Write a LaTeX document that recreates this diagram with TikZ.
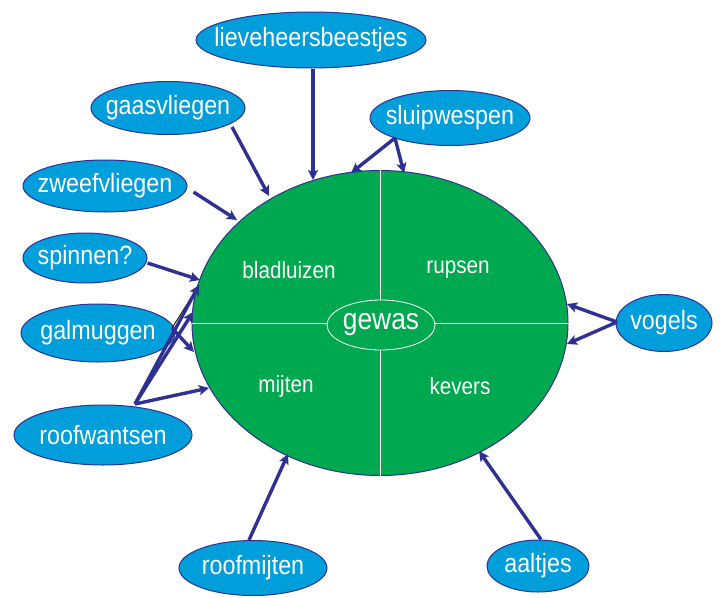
\documentclass[tikz,border=0pt]{standalone}
\usepackage{fontspec}
\setmainfont{Liberation Sans}[FakeStretch=0.88]
\usetikzlibrary{arrows.meta,shapes.geometric}
\definecolor{crop}{HTML}{00A84F}
\definecolor{pest}{HTML}{009EDB}
\definecolor{navy}{HTML}{2E3192}
\newcommand\lbl[1]{\makebox[0pt]{#1}}
\tikzset{
  enemy/.style={ellipse,draw=navy,line width=1pt,fill=pest,text=white,inner sep=0pt,font=\fontsize{26.5}{26.5}\selectfont},
  link/.style={draw=navy,line width=3.4pt,-{Stealth[length=10pt,width=10pt,inset=2pt]}},
  quad/.style={text=white,font=\fontsize{23.5}{23.5}\selectfont}
}
\begin{document}
\begin{tikzpicture}[x=1pt,y=-1pt]
\useasboundingbox (0,0) rectangle (722,597);
% crop
\node[ellipse,draw=navy,line width=1pt,fill=crop,minimum width=376pt,minimum height=305pt,inner sep=0pt] (crop) at (380,323) {};
\draw[white,line width=0.7pt] (crop.north) -- (crop.south);
\draw[white,line width=0.7pt] (crop.west) -- (crop.east);
\node[ellipse,draw=white,line width=0.8pt,fill=crop,minimum width=108pt,minimum height=50pt,inner sep=0pt,text=white,font=\fontsize{30}{30}\selectfont] (gewas) at (381,325) {\lbl{gewas}};
\node[quad] (blad) at (289,270) {bladluizen};
\node[quad] (rups) at (458,270) {rupsen};
\node[quad] (mijt) at (286,386) {mijten};
\node[quad] (kev) at (460,386) {kevers};
% enemies
\node[enemy,minimum width=230pt,minimum height=56pt] (lhb) at (311,40) {\lbl{lieveheersbeestjes}};
\node[enemy,minimum width=154pt,minimum height=53pt] (gaas) at (168,108) {\lbl{gaasvliegen}};
\node[enemy,minimum width=160pt,minimum height=55pt] (sluip) at (450,118) {\lbl{sluipwespen}};
\node[enemy,minimum width=164pt,minimum height=52pt] (zweef) at (105,186) {\lbl{zweefvliegen}};
\node[enemy,minimum width=124pt,minimum height=50pt] (spin) at (85,258) {\lbl{spinnen?}};
\node[enemy,minimum width=154pt,minimum height=58pt] (galm) at (98,333) {\lbl{galmuggen}};
\node[enemy,minimum width=178pt,minimum height=60pt] (roofw) at (103,435) {\lbl{roofwantsen}};
\node[enemy,minimum width=96pt,minimum height=57pt] (vog) at (664,323) {\lbl{vogels}};
\node[enemy,minimum width=148pt,minimum height=55pt] (roofm) at (253,568) {\lbl{roofmijten}};
\node[enemy,minimum width=102pt,minimum height=52pt] (aal) at (538,566) {\lbl{aaltjes}};
% arrow anchor points
\coordinate (pLhb) at (313,180);
\coordinate (pGaas) at (269,196);
\coordinate (pZweef) at (237,220);
\coordinate (pSl1) at (351,173);
\coordinate (pSl2) at (404,173);
\coordinate (pSpin) at (200,280);
\coordinate (pGalm) at (194,352);
\coordinate (pRw1) at (199,285);
\coordinate (pRw2) at (193,312);
\coordinate (pRw3) at (209,388);
\coordinate (pVog1) at (567,304);
\coordinate (pVog2) at (567,344);
\coordinate (pRm) at (288,454);
\coordinate (pAal) at (479,451);
\coordinate (sSl) at (395,138);
\coordinate (sVog) at (617,322);
\coordinate (sRw) at (135,404);
\coordinate (sGalm) at (172,328);
% arrows
\draw[link] (lhb.south -| pLhb) -- (pLhb);
\draw[link] (gaas) ++(64,19) -- (pGaas);
\draw[link] (zweef.east) ++(6,6) -- (pZweef);
\draw[link] (sSl) -- (pSl1);
\draw[link] (sSl) -- (pSl2);
\draw[link] (spin.east) ++(0,5) -- (pSpin);
\draw[black,line width=0.8pt] (sGalm) -- (pRw1);
\draw[link] (sGalm) -- (pGalm);
\draw[link] (sRw) -- (pRw1);
\draw[link] (sRw) -- (pRw2);
\draw[link] (sRw) -- (pRw3);
\draw[link] (sVog) -- (pVog1);
\draw[link] (sVog) -- (pVog2);
\draw[link] (roofm.north) ++(-4,0) -- (pRm);
\draw[link] (aal.north) ++(3,0) -- (pAal);
\end{tikzpicture}
\end{document}
